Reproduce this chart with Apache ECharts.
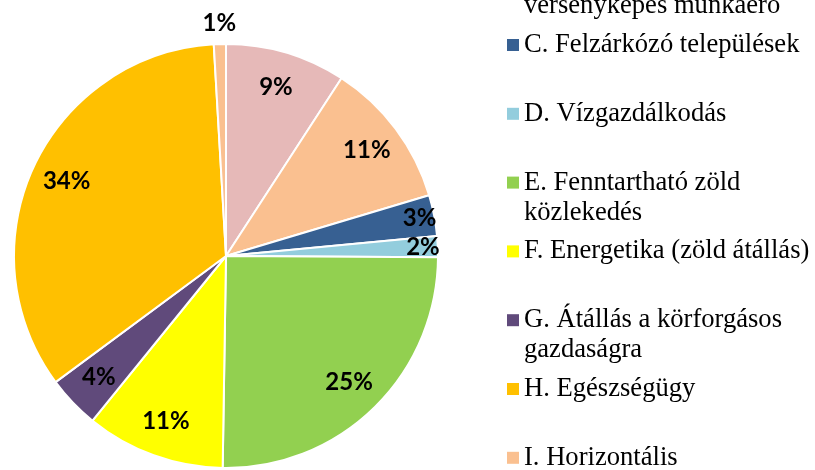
<!DOCTYPE html>
<html><head><meta charset="utf-8">
<script src="https://cdn.jsdelivr.net/npm/echarts@6/dist/echarts.min.js"></script>
<style>html,body{margin:0;padding:0;background:#fff}#c{width:815px;height:470px}</style>
</head><body><div id="c"></div>
<script>
const categories = [
  'A. Demográfia és köznevelés',
  'B. Felsőoktatás és\nversenyképes munkaerő',
  'C. Felzárkózó települések',
  'D. Vízgazdálkodás',
  'E. Fenntartható zöld\nközlekedés',
  'F. Energetika (zöld átállás)',
  'G. Átállás a körforgásos\ngazdaságra',
  'H. Egészségügy',
  'I. Horizontális'
];
const shares = [9.17, 11.21, 3.12, 1.60, 25.15, 10.59, 4.02, 34.22, 0.92];
const palette = ['#E6B9B8','#FAC090','#376092','#93CDDD','#92D050','#FFFF00','#604A7B','#FFC000','#FAC090'];

const CX = 226, CY = 256, R = 212;
const total = shares.reduce((a, b) => a + b, 0);

const legendFirstVisible = 2, legendFirstY = 45, legendStep = 68.8, lineH = 30;
const legends = categories.map((name, i) => ({
  data: [name],
  orient: 'vertical',
  left: 507,
  top: legendFirstY + (i - legendFirstVisible) * legendStep - 1.5 * lineH,
  padding: 0,
  itemWidth: 12,
  itemHeight: 12,
  icon: 'rect',
  selectedMode: false,
  itemStyle: { borderWidth: 0 },
  formatter: n => ' \n' + n + (n.indexOf('\n') >= 0 ? '' : '\n '),
  textStyle: { fontFamily: 'Liberation Serif', fontSize: 26.6, lineHeight: lineH, color: '#000' }
}));

const chart = echarts.init(document.getElementById('c'));
chart.setOption({
  animation: false,
  color: palette,
  legend: legends,
  series: [{
    type: 'pie',
    center: [CX, CY],
    radius: [0, R],
    startAngle: 90,
    clockwise: true,
    data: categories.map((n, i) => ({ name: n, value: shares[i] })),
    itemStyle: { borderColor: '#fff', borderWidth: 2 },
    label: {
      show: true,
      position: 'inside',
      formatter: p => Math.round(p.percent) + '%',
      fontFamily: 'Lato',
      fontWeight: 'bold',
      fontSize: 24,
      color: '#000'
    },
    labelLine: { show: false },
    labelLayout: function (p) {
      const pct = shares[p.dataIndex] / total * 100;
      const k = pct < 1.5 ? 1.10 : (pct < 3.5 ? 0.93 : 0.83);
      const lx = p.labelRect.x + p.labelRect.width / 2;
      const ly = p.labelRect.y + p.labelRect.height / 2;
      const vx = lx - CX, vy = ly - CY;
      const d = Math.hypot(vx, vy) || 1;
      return { x: CX + vx / d * k * R, y: CY + vy / d * k * R };
    }
  }]
});
</script>
</body></html>
